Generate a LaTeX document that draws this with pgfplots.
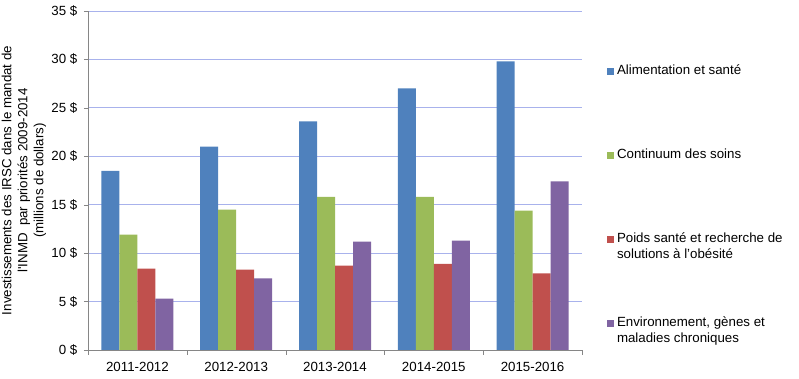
\documentclass[border=0pt]{standalone}
\usepackage{fontspec}
\setmainfont{Liberation Sans}
\usepackage{pgfplots}
\pgfplotsset{compat=1.18}
\definecolor{cblue}{HTML}{4F81BD}
\definecolor{cgreen}{HTML}{9BBB59}
\definecolor{cred}{HTML}{C0504D}
\definecolor{cpurple}{HTML}{8064A2}
\definecolor{gridc}{RGB}{168,178,236}
\definecolor{axc}{HTML}{868686}
\begin{document}
\fontsize{13.3bp}{16bp}\selectfont
\begin{tikzpicture}
\useasboundingbox (-88bp,-29bp) rectangle (711bp,350bp);
\begin{axis}[
  scale only axis,
  width=494bp, height=339bp,
  ybar=0pt, bar width=18bp,
  xmin=-0.5, xmax=4.5,
  ymin=0, ymax=35,
  ytick={0,5,...,35},
  yticklabel={\pgfmathprintnumber[assume math mode=true]{\tick}~\$},
  xtick={0,1,2,3,4},
  xticklabels={2011-2012,2012-2013,2013-2014,2014-2015,2015-2016},
  minor xtick={-0.5,0.5,1.5,2.5,3.5,4.5},
  major x tick style={draw=none},
  minor tick length=5bp,
  major tick length=4bp,
  tick align=outside,
  axis x line*=bottom, axis y line*=left,
  axis line style={axc},
  tick style={axc},
  ymajorgrids, grid style={gridc, line width=0.8pt},
  every tick label/.append style={font=\fontsize{13.3bp}{16bp}\selectfont},
  xticklabel style={yshift=-4bp},
  yticklabel style={xshift=-2bp},
  ylabel={Investissements des IRSC dans le mandat de\\l\textquotesingle INMD\ \ par priorités 2009-2014\\(millions de dollars)},
  every axis y label/.style={at={(axis description cs:-0.1296,0.5)}, rotate=90, anchor=center, align=center, font=\fontsize{13.3bp}{16bp}\selectfont},
  legend image code/.code={\fill[#1,draw=none] (0bp,0bp) rectangle (7bp,7bp);},
  legend style={at={(1,1)}, anchor=north west, xshift=25bp, yshift=-53.5bp,
    draw=none, fill=none, inner sep=0pt, outer sep=0pt,
    row sep=52bp, column sep=3bp,
    font=\fontsize{13.3bp}{16bp}\selectfont,
    nodes={inner sep=0pt, outer sep=0pt, text height=10bp, text depth=22bp, anchor=base west}},
  legend cell align=left,
]
\addplot[fill=cblue, draw=none] coordinates {(0,18.5) (1,21.0) (2,23.6) (3,27.0) (4,29.8)};
\addlegendentry{Alimentation et santé}
\addplot[fill=cgreen, draw=none] coordinates {(0,11.9) (1,14.5) (2,15.8) (3,15.8) (4,14.4)};
\addlegendentry{Continuum des soins}
\addplot[fill=cred, draw=none] coordinates {(0,8.4) (1,8.3) (2,8.7) (3,8.9) (4,7.9)};
\addlegendentry{\parbox[t]{200bp}{\raggedright Poids santé et recherche de\\solutions à l’obésité}}
\addplot[fill=cpurple, draw=none] coordinates {(0,5.3) (1,7.4) (2,11.2) (3,11.3) (4,17.4)};
\addlegendentry{\parbox[t]{200bp}{\raggedright Environnement, gènes et\\maladies chroniques}}
\end{axis}
\end{tikzpicture}
\end{document}
